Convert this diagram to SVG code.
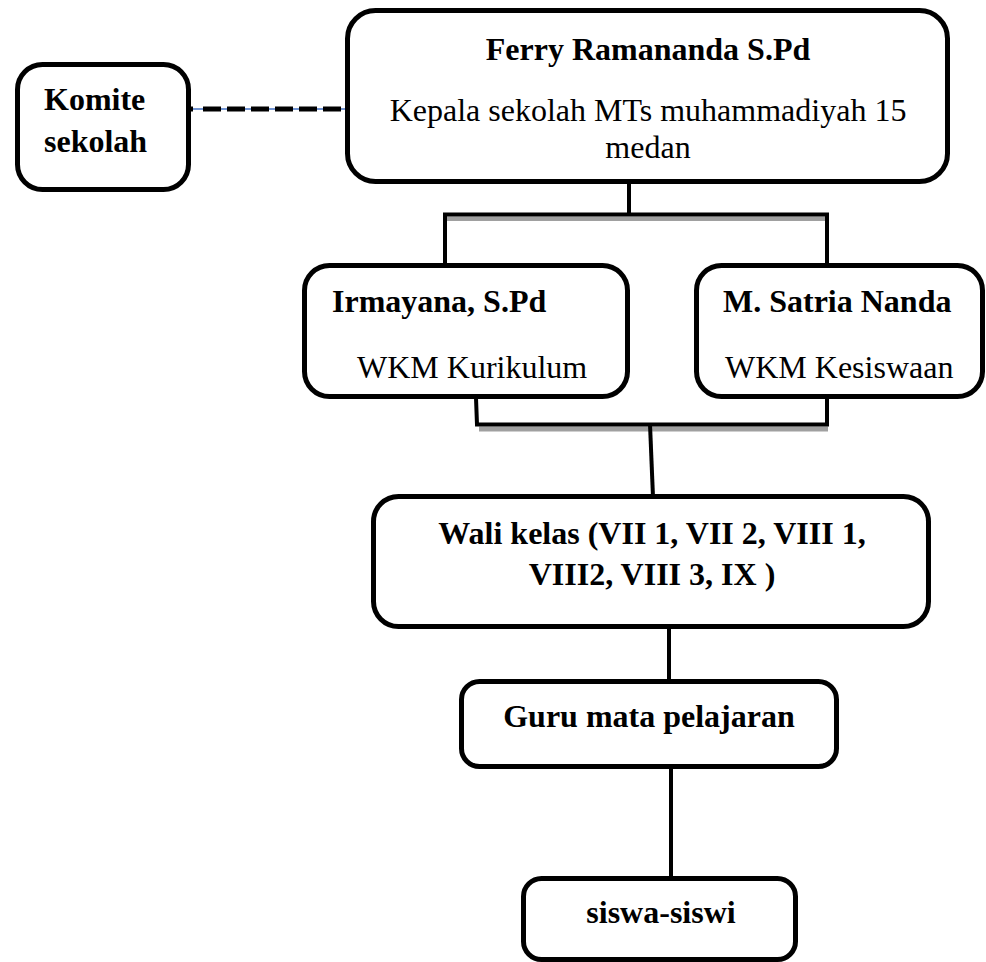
<svg xmlns="http://www.w3.org/2000/svg" width="986" height="962" viewBox="0 0 986 962">
<style>
.box{fill:#fff;stroke:#000;stroke-width:5}
.ln{stroke:#000;stroke-width:4;fill:none;stroke-linecap:butt;stroke-linejoin:miter}
.sh{fill:#a0a0a0}
text{font-family:"Liberation Serif","Times New Roman",serif;font-size:32px;fill:#000}
.b{font-weight:bold}
.c{text-anchor:middle}
</style>
<rect width="986" height="962" fill="#fff"/>
<g id="connectors">
<line x1="188" y1="109" x2="346" y2="109" stroke="#4472C4" stroke-width="1.5"/>
<line x1="203" y1="109" x2="346" y2="109" stroke="#000" stroke-width="5" stroke-dasharray="18 6"/>
<line x1="189" y1="109" x2="193" y2="109" stroke="#000" stroke-width="5"/>
<rect class="sh" x="447" y="216.5" width="380" height="4.5"/>
<polyline class="ln" points="629,182 629,214.5"/>
<polyline class="ln" points="445,265 445,214.5 827,214.5 827,265"/>
<rect class="sh" x="479" y="426.5" width="349" height="5"/>
<polyline class="ln" points="476,398 477,424.5 827,424.5 827,398"/>
<line class="ln" x1="650" y1="424.5" x2="653" y2="497"/>
<line class="ln" x1="669" y1="628" x2="669" y2="682"/>
<line class="ln" x1="671" y1="768" x2="671" y2="879"/>
</g>
<g id="komite">
<rect class="box" x="17.5" y="64.5" width="171" height="125" rx="25"/>
<text class="b" x="44" y="110">Komite</text>
<text class="b" x="44" y="152">sekolah</text>
</g>
<g id="kepala">
<rect class="box" x="347.5" y="10.5" width="600" height="171" rx="28"/>
<text class="b c" x="648" y="60">Ferry Ramananda S.Pd</text>
<text class="c" x="648" y="121">Kepala sekolah MTs muhammadiyah 15</text>
<text class="c" x="648" y="158">medan</text>
</g>
<g id="irmayana">
<rect class="box" x="304.5" y="265.5" width="323" height="131" rx="25"/>
<text class="b" x="332" y="312">Irmayana, S.Pd</text>
<text x="357" y="378">WKM Kurikulum</text>
</g>
<g id="satria">
<rect class="box" x="696.5" y="265.5" width="286" height="131" rx="25"/>
<text class="b" x="723" y="312">M. Satria Nanda</text>
<text x="725" y="378">WKM Kesiswaan</text>
</g>
<g id="wali">
<rect class="box" x="373.5" y="496.5" width="555" height="130" rx="25"/>
<text class="b c" x="652" y="544">Wali kelas (VII 1, VII 2, VIII 1,</text>
<text class="b c" x="652" y="585">VIII2, VIII 3, IX )</text>
</g>
<g id="guru">
<rect class="box" x="461.5" y="681.5" width="375" height="85" rx="18"/>
<text class="b c" x="649" y="727">Guru mata pelajaran</text>
</g>
<g id="siswa">
<rect class="box" x="523.5" y="878.5" width="272" height="81" rx="18"/>
<text class="b c" x="661" y="923">siswa-siswi</text>
</g>
</svg>
